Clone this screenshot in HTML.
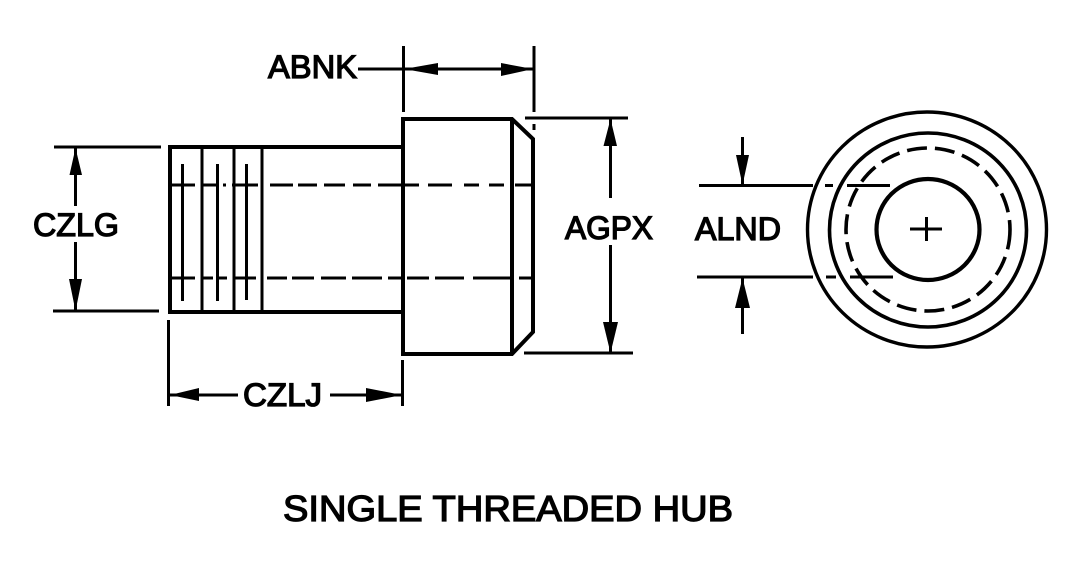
<!DOCTYPE html>
<html>
<head>
<meta charset="utf-8">
<style>
html,body{margin:0;padding:0;background:#fff;width:1080px;height:570px;overflow:hidden}
svg{display:block}
text{font-family:"Liberation Sans",sans-serif;font-weight:400;fill:#000;stroke:#000;stroke-width:1.3px}
</style>
</head>
<body>
<svg width="1080" height="570" viewBox="0 0 1080 570" xmlns="http://www.w3.org/2000/svg">
<rect width="1080" height="570" fill="#fff"/>
<g fill="none" stroke="#000" stroke-width="4">
  <!-- shaft -->
  <path d="M403 147H170V312H403"/>
  <path d="M202 147V312M234 147V312M262 147V312" stroke-width="3"/>
  <path d="M182.500 164V301M217.500 164V301M246.500 164V300" stroke-width="3"/>
  <!-- head -->
  <path d="M403 119H512L533 139V332L512 354H403Z"/>
  <path d="M512 119V354"/>
</g>
<g fill="none" stroke="#000" stroke-width="3">
  <!-- hidden lines -->
  <path d="M171 185H195M203 185H216M223 185H226M232 185H258M270 185H293M298 185H317M324 185H345M353 185H371M378 185H419M428 185H452M464 185H479M489 185H504M515 185H533"/>
  <path d="M172 278H195M202 278H213M217 278H227M235 278H256M267 278H287M292 278H314M321 278H346M352 278H382M388 278H403M407 278H429M435 278H464M473 278H511M519 278H531"/>
  <!-- extension lines -->
  <path d="M403.500 46V112M534 46V112M534 124V130"/>
  <path d="M525 118H628M524 353H633"/>
  <path d="M54 147H161M53 311H159"/>
  <path d="M168.500 320V406M402.500 360V406"/>
  <path d="M699 185.500H813M825 185.500H833M847 185.500H890"/>
  <path d="M697 277H813M826 277H836M850 277H893"/>
  <!-- dimension lines -->
  <path d="M358 69H533"/>
  <path d="M610.500 119V198M610.500 245V353"/>
  <path d="M75.500 148V206M75.500 242V311"/>
  <path d="M169 395H238M330 395H403"/>
  <path d="M742.500 137V185M742.500 278V334"/>
  <!-- end view -->
  <ellipse cx="927" cy="229.500" rx="119.500" ry="117.500" stroke-width="3.400"/>
  <ellipse cx="928" cy="230" rx="98.500" ry="97" stroke-width="3.600"/>
  <ellipse cx="928" cy="229.500" rx="82" ry="81.500" stroke-width="3.600" stroke-dasharray="20 8"/>
  <ellipse cx="928" cy="229.500" rx="51.500" ry="50.500" stroke-width="4.200"/>
  <path d="M910 229H942M926.500 217V241"/>
</g>
<g fill="#000" stroke="none">
  <path d="M404 69L438 63V75Z"/>
  <path d="M533 69L501 63V76Z"/>
  <path d="M610.500 119L617 146H603.500Z"/>
  <path d="M610.500 353L603 322H618Z"/>
  <path d="M75.500 148L82 175H69.500Z"/>
  <path d="M75.500 311L69 279H82Z"/>
  <path d="M170 395L199 388V401Z"/>
  <path d="M402 395L366 388V402Z"/>
  <path d="M742.500 185L736 155H749Z"/>
  <path d="M742.500 278L735 308H750Z"/>
</g>
<text x="268" y="78" font-size="32" textLength="89" lengthAdjust="spacingAndGlyphs">ABNK</text>
<text x="33" y="236" font-size="32" textLength="86" lengthAdjust="spacingAndGlyphs">CZLG</text>
<text x="243" y="406" font-size="32" textLength="79" lengthAdjust="spacingAndGlyphs">CZLJ</text>
<text x="565" y="239" font-size="32" textLength="88" lengthAdjust="spacingAndGlyphs">AGPX</text>
<text x="695" y="240" font-size="32" textLength="86" lengthAdjust="spacingAndGlyphs">ALND</text>
<text x="283" y="521" font-size="36" textLength="450" lengthAdjust="spacingAndGlyphs">SINGLE THREADED HUB</text>
</svg>
</body>
</html>
